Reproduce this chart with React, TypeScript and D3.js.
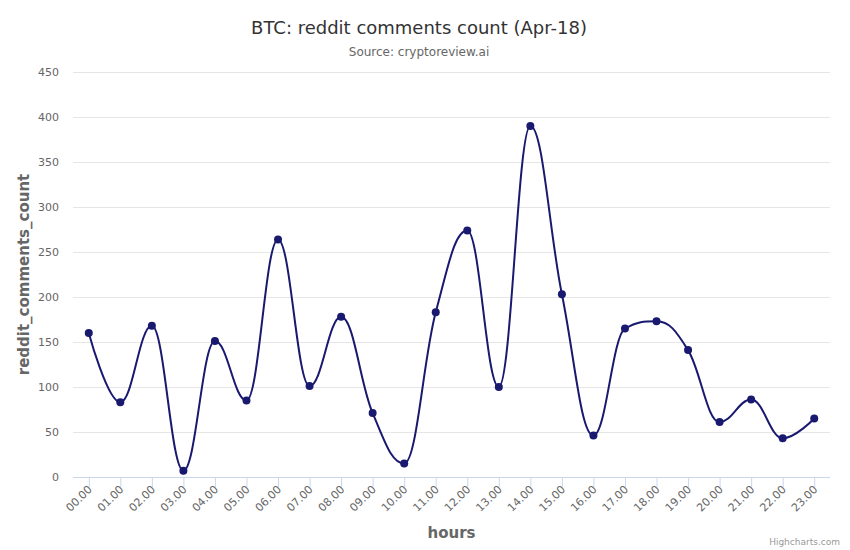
import React from "react";
import * as d3 from "d3";

const hours = ["00.00","01.00","02.00","03.00","04.00","05.00","06.00","07.00","08.00","09.00","10.00","11.00","12.00","13.00","14.00","15.00","16.00","17.00","18.00","19.00","20.00","21.00","22.00","23.00"];
const counts = [160, 83, 168, 7, 151, 85, 264, 101, 178, 71, 15, 183, 274, 100, 390, 203, 46, 165, 173, 141, 61, 86, 43, 65];
const yTicks = [0, 50, 100, 150, 200, 250, 300, 350, 400, 450];

const W = 850, H = 550;
const left = 73, right = 830, top = 72, bottom = 477;
const FONT = "'DejaVu Sans', sans-serif";
const LINE = "#191970";

function splinePath(pts: [number, number][]): string {
  const smoothing = 1.5, denom = smoothing + 1;
  const ctrl: { lx: number; ly: number; rx: number; ry: number }[] = [];
  for (let i = 0; i < pts.length; i++) {
    const [x, y] = pts[i];
    if (i === 0 || i === pts.length - 1) {
      ctrl.push({ lx: x, ly: y, rx: x, ry: y });
      continue;
    }
    const [lx0, ly0] = pts[i - 1];
    const [nx, ny] = pts[i + 1];
    const lcx = (smoothing * x + lx0) / denom;
    let lcy = (smoothing * y + ly0) / denom;
    const rcx = (smoothing * x + nx) / denom;
    let rcy = (smoothing * y + ny) / denom;
    let corr = 0;
    if (rcx !== lcx) corr = ((rcy - lcy) * (rcx - x)) / (rcx - lcx) + y - rcy;
    lcy += corr; rcy += corr;
    if (lcy > ly0 && lcy > y) { lcy = Math.max(ly0, y); rcy = 2 * y - lcy; }
    else if (lcy < ly0 && lcy < y) { lcy = Math.min(ly0, y); rcy = 2 * y - lcy; }
    if (rcy > ny && rcy > y) { rcy = Math.max(ny, y); lcy = 2 * y - rcy; }
    else if (rcy < ny && rcy < y) { rcy = Math.min(ny, y); lcy = 2 * y - rcy; }
    ctrl.push({ lx: lcx, ly: lcy, rx: rcx, ry: rcy });
  }
  let d = `M${pts[0][0]},${pts[0][1]}`;
  for (let i = 1; i < pts.length; i++) {
    const p = ctrl[i - 1], c = ctrl[i];
    d += `C${p.rx},${p.ry},${c.lx},${c.ly},${pts[i][0]},${pts[i][1]}`;
  }
  return d;
}

export default function App() {
  const x = d3.scalePoint<string>().domain(hours).range([left, right]).padding(0.5);
  const y = d3.scaleLinear().domain([0, 450]).range([bottom, top]);
  const pts: [number, number][] = hours.map((h, i) => [x(h) as number, y(counts[i])]);
  const d = splinePath(pts);

  return (
    <svg width={W} height={H} style={{ position: "absolute", left: 0, top: 0, background: "#fff" }} fontFamily={FONT}>
      <rect width={W} height={H} fill="#fff" />
      <text x={419} y={34} textAnchor="middle" fontSize={18} fill="#333">BTC: reddit comments count (Apr-18)</text>
      <text x={419} y={56} textAnchor="middle" fontSize={12} fill="#666">Source: cryptoreview.ai</text>

      {yTicks.map((t) => (
        <g key={t}>
          {t !== 0 && <line x1={left} x2={right} y1={y(t) + 0.5} y2={y(t) + 0.5} stroke="#e6e6e6" strokeWidth={1} />}
          <text x={59} y={y(t) + 4} textAnchor="end" fontSize={11} fill="#666">{t}</text>
        </g>
      ))}
      <line x1={left} x2={right} y1={bottom + 0.5} y2={bottom + 0.5} stroke="#ccd6eb" strokeWidth={1} />
      {hours.map((h) => (
        <g key={h}>
          <line x1={(x(h) as number) + 0.5} x2={(x(h) as number) + 0.5} y1={bottom} y2={bottom + 10} stroke="#ccd6eb" strokeWidth={1} />
          <text transform={`translate(${(x(h) as number) + 4},${bottom + 13}) rotate(-45)`} textAnchor="end" fontSize={11} fill="#666">{h}</text>
        </g>
      ))}

      <text transform={`translate(29,${(top + bottom) / 2}) rotate(-90)`} textAnchor="middle" fontSize={15} fontWeight="bold" fill="#666">reddit_comments_count</text>
      <text x={(left + right) / 2} y={538} textAnchor="middle" fontSize={15} fontWeight="bold" fill="#666">hours</text>

      <path d={d} fill="none" stroke={LINE} strokeWidth={2} strokeLinejoin="round" strokeLinecap="round" />
      {pts.map((p, i) => (
        <circle key={i} cx={p[0]} cy={p[1]} r={4} fill={LINE} />
      ))}

      <text x={840} y={545} textAnchor="end" fontSize={9} fill="#999">Highcharts.com</text>
    </svg>
  );
}
